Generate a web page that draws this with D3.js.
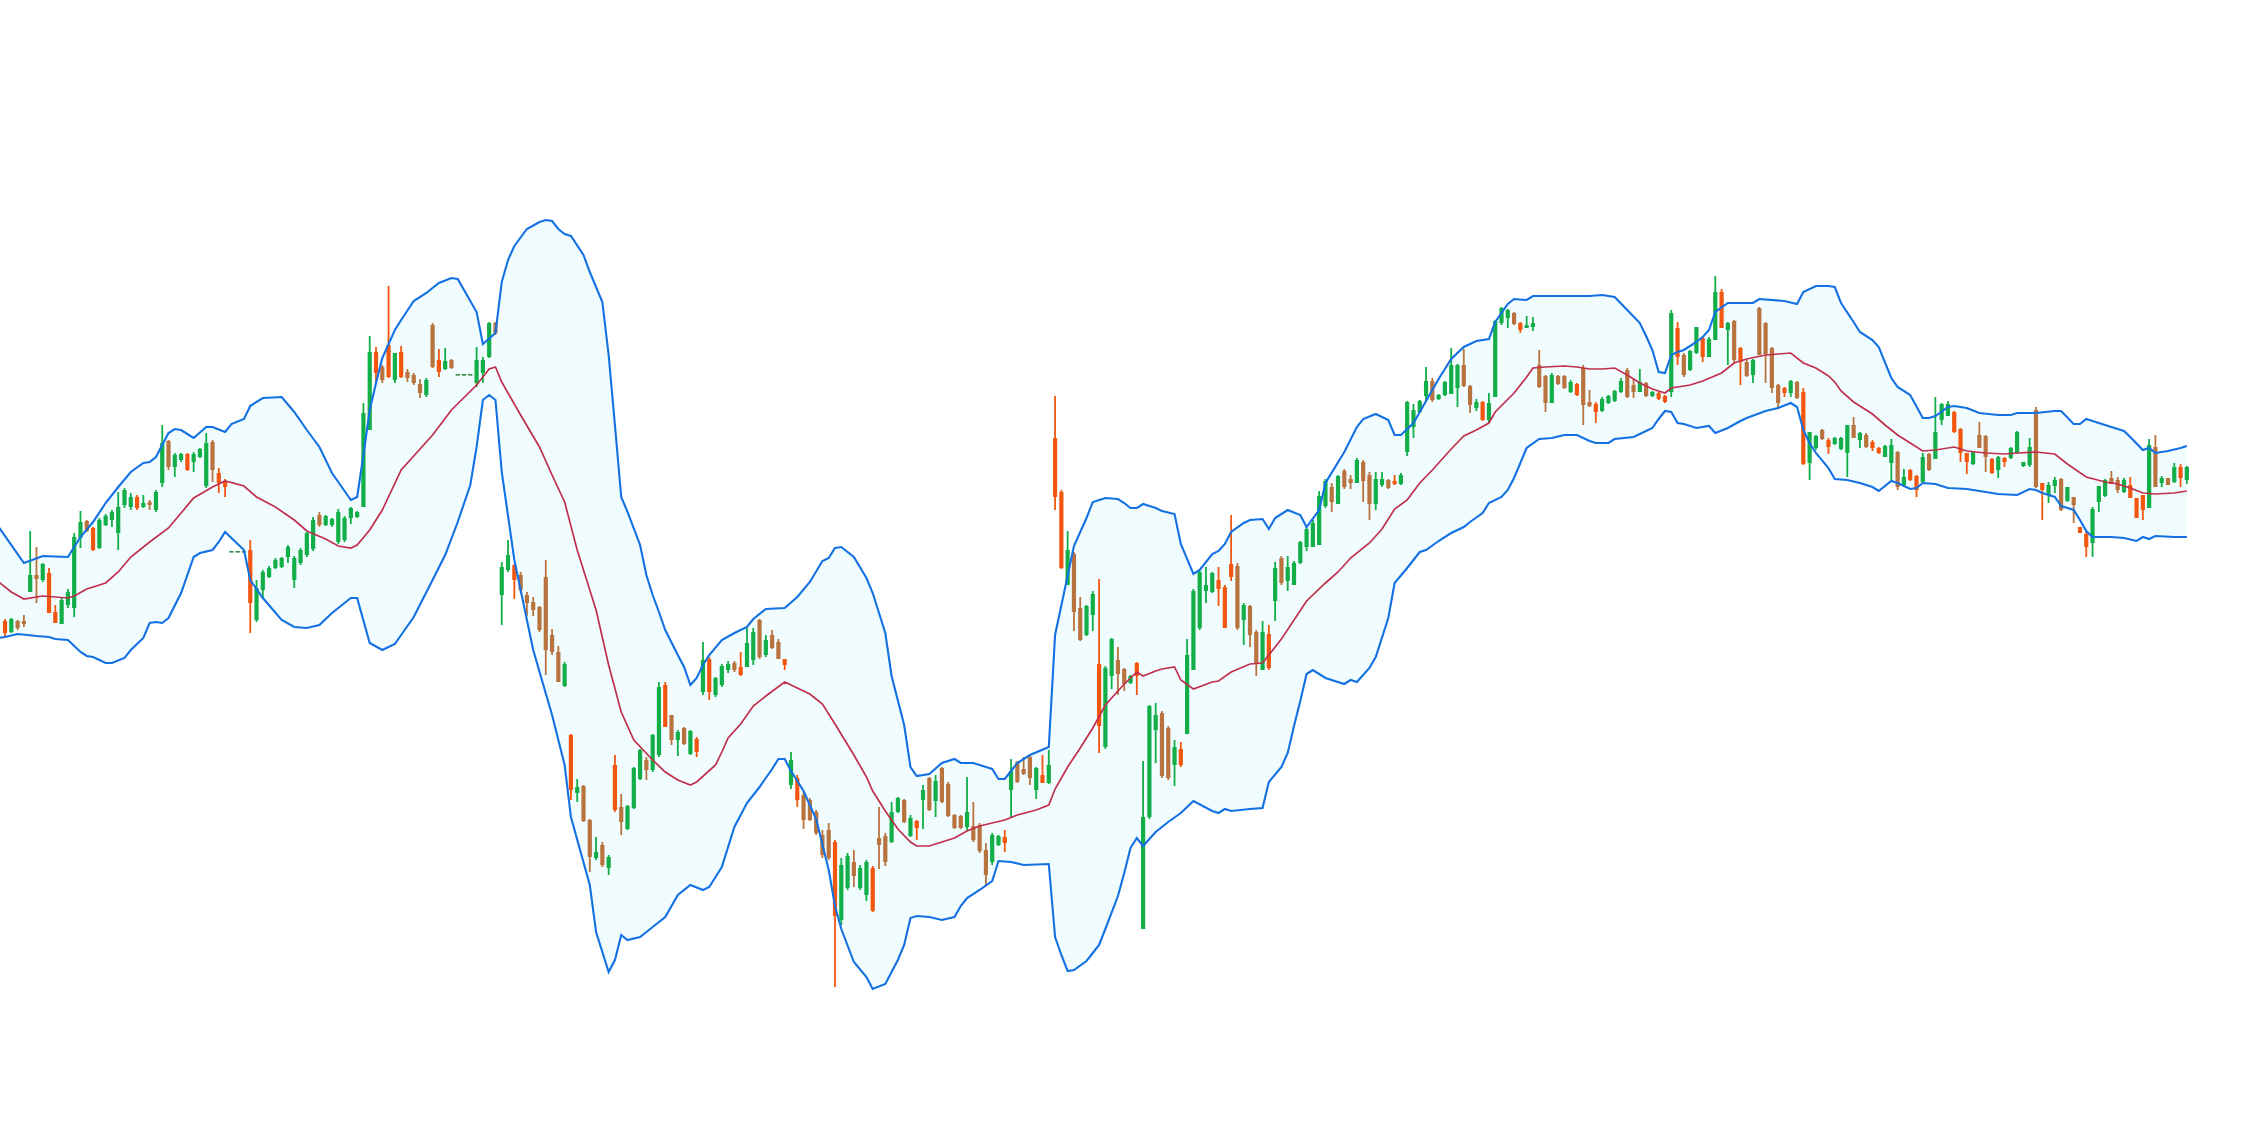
<!DOCTYPE html>
<html><head><meta charset="utf-8">
<script src="https://cdn.jsdelivr.net/npm/d3@7"></script>
<style>html,body{margin:0;padding:0;background:#fff;}svg{display:block;}</style>
</head><body>
<svg id="chart" width="2268" height="1148"></svg>
<script>
// ---- data (price units) ----
const openP = [
579,568,579,579,608,625,620,627,588,576, 595,592,662,679,672,652,675,680,667,695,
693,703,693,698,690,717,759,733,740,746, 738,743,714,758,727,718,649,649,649,650,
580,610,623,632,633,643,620,637,645,651, 685,675,675,658,660,682,683,693,770,848,
833,855,820,848,828,825,816,805,875,840, 831,840,826,826,826,817,827,843,877,605,
630,635,625,605,598,593,623,565,548,514, 465,407,414,380,342,355,332,435,393,371,
392,421,440,430,445,515,485,460,472,446, 461,508,541,505,515,530,537,533,533,540,
580,545,565,558,541,415,422,405,400,388, 365,370,358,280,312,338,312,305,332,362,
364,358,388,400,364,379,400,422,399,432, 416,385,384,373,374,375,350,338,355,363,
410,438,431,443,410,425,417,762,708,615, 646,592,565,585,536,453,524,540,531,517,
537,271,383,470,487,472,435,451,466,530, 572,609,608,620,613,636,634,580,594,568,
530,566,599,642,619,615,637,653,653,655, 694,713,696,729,721,717,738,725,696,715,
720,719,716,748,773,788,804,819,801,805, 806,812,835,814,792,798,780,803,877,882,
887,877,872,873,835,824,797,824,824,808, 816,832,798,796,789,797,799,808,830,815,
808,817,804,807,804,808,872,845,830,847, 862,843,860,908,870,879,852,838,825,892,
877,852,815,812,807,818,808,737,752,770, 760,756,751,747,775,760,765,758,752,743,
737,748,715,730,724,718,746,741,780,784, 788,771,747,736,765,764,741,730,742,742,
747,734,735,790,717,705,714,721,699,703, 673,666,657,698,704,722,720,708,715,702,
705,692,753,717,722,718,733,720];
const highP = [
581,582,580,585,669,653,637,632,595,602, 611,667,689,680,673,682,686,690,708,712,
707,705,705,700,710,775,760,747,747,747, 748,752,767,760,732,721,649,649,649,660,
620,630,634,642,643,655,644,652,668,683, 688,685,682,691,684,693,689,797,864,853,
835,914,847,854,831,827,821,822,877,851, 852,841,826,826,826,853,843,878,878,638,
660,636,628,608,603,594,640,571,554,538, 466,421,415,381,363,358,345,445,406,395,
433,451,443,466,518,518,485,470,473,470, 463,558,543,523,536,539,539,548,573,572,
581,565,570,561,541,448,425,408,402,390, 370,377,360,342,347,350,335,340,334,393,
367,398,403,401,385,380,415,423,425,433, 418,386,385,423,398,377,357,367,365,370,
441,439,443,445,433,445,450,804,710,669, 648,603,595,609,621,534,562,553,532,525,
538,439,495,497,489,474,460,458,561,611, 630,633,628,633,615,685,637,597,595,570,
579,575,638,644,644,639,659,673,680,709, 721,717,725,731,725,742,740,728,728,728,
721,725,727,799,796,800,833,822,806,819, 852,836,851,815,801,799,807,880,893,891,
888,878,884,883,850,825,827,825,825,820, 817,835,810,798,803,805,810,822,832,822,
831,818,809,808,805,890,878,847,850,873, 864,863,924,911,878,880,853,840,841,893,
878,853,816,813,820,819,812,768,765,771, 762,763,763,775,783,768,767,760,753,755,
761,749,731,731,725,747,747,803,797,799, 789,772,747,749,778,765,742,744,743,753,
769,738,762,793,717,718,723,722,713,703, 673,668,693,714,721,729,723,722,723,702,
705,761,765,724,722,737,736,734];
const lowP = [
563,567,570,573,608,597,618,587,577,576, 592,583,652,668,649,651,674,673,650,692,
690,690,692,690,688,713,730,723,738,729, 728,742,712,718,707,703,649,649,649,567,
578,602,622,631,632,637,612,635,643,649, 673,674,673,656,658,676,682,693,770,816,
817,822,817,822,818,815,802,803,832,823, 830,831,826,826,826,813,817,842,865,575,
628,601,608,584,584,568,525,545,518,513, 400,398,378,328,340,333,325,388,365,370,
391,420,420,428,443,473,455,444,455,445, 443,505,500,503,513,527,528,524,533,535,
541,543,551,541,530,411,393,371,379,365, 342,340,213,275,310,313,310,299,288,331,
334,357,387,377,363,360,371,389,383,397, 383,371,371,369,358,347,314,335,354,348,
383,417,425,415,401,417,416,690,631,615, 569,559,564,569,447,451,511,505,509,516,
505,271,381,437,422,420,414,433,466,530, 570,597,607,594,572,619,570,555,553,524,
530,530,579,615,609,615,636,649,653,655, 692,688,696,711,711,717,698,680,690,713,
711,715,715,744,762,787,798,798,800,804, 806,793,813,787,789,779,777,803,875,872,
875,867,872,869,812,788,797,815,811,807, 804,775,793,777,788,796,798,807,802,802,
808,803,803,800,797,803,835,823,829,846, 838,843,860,872,835,837,815,823,817,845,
817,807,791,803,803,801,735,720,750,760, 746,755,750,723,762,752,752,749,746,743,
719,710,713,719,703,717,729,741,775,784, 767,738,726,735,752,728,726,722,733,741,
746,733,733,712,680,697,707,689,698,677, 667,643,643,688,703,716,707,707,702,682,
680,692,713,713,715,717,713,716];
const closeP = [
567,581,572,576,625,621,636,587,577,600, 608,663,678,669,650,680,684,688,693,710,
703,692,697,695,708,757,733,745,746,730, 746,751,757,730,717,713,649,649,649,597,
612,628,632,640,642,653,642,650,667,680, 675,684,681,688,682,692,688,787,848,827,
820,823,847,823,822,817,807,820,833,828, 839,832,826,826,826,840,840,877,867,633,
645,620,610,597,590,570,550,548,518,536, 410,413,379,343,348,335,343,390,378,394,
432,450,430,465,513,473,460,468,456,469, 448,540,508,522,534,536,530,525,557,568,
543,560,552,541,535,440,400,380,380,367, 345,342,284,335,344,324,332,338,289,355,
338,388,402,378,382,372,410,390,419,398, 384,372,372,388,360,349,325,365,364,357,
429,418,426,422,432,417,435,703,632,650, 588,560,594,606,474,532,561,526,516,524,
524,383,494,485,424,422,453,435,545,609, 628,615,627,611,572,623,572,595,565,536,
568,532,632,617,633,637,658,671,677,704, 719,698,724,713,717,740,719,696,721,721,
712,716,725,798,790,799,819,800,805,818, 835,835,814,795,798,780,797,879,892,890,
876,870,875,877,813,797,825,816,812,818, 805,795,794,788,801,804,809,819,803,808,
818,804,808,801,798,887,843,825,849,873, 843,861,908,872,877,840,838,824,840,845,
846,812,797,807,819,802,736,768,764,761, 753,762,762,775,762,767,753,752,747,754,
755,713,723,720,710,743,730,768,796,796, 768,747,738,748,752,743,727,743,738,752,
768,738,753,713,710,715,720,690,713,695, 667,653,691,714,720,716,710,720,702,682,
690,755,713,722,715,733,722,733];
// candle tone: g = up, o = down, b = muted down, f = flat
const tone = (
"ogbbgbgoog"+"gggboggggg"+"gogbggbggo"+"gggboofffo"+"gggggggggg"+
"bggggggggo"+"bogobbbgbo"+"gbfffgggbg"+"gobbbbbbbg"+"ogbbgbgobg"+
"ggbggobgbg"+"ogogggbogg"+"bgbbogobbb"+"bboggbggob"+"bggbgogbgb"+
"bbbgbbbggo"+"gbbbgogoog"+"bbggoggbbg"+"ogggbbgogg"+"gggooobgbb"+
"gogbgggggg"+"gbgbbgbbgg"+"bogggggbgg"+"ggbbgogggg"+"boggbbgbbg"+
"obboggggbb"+"gbgoogobgg"+"oggogbobgb"+"bbbogboggb"+"ogggbgboog"+
"gbgoogbggg"+"ooogbbogog"+"gggboggbgb"+"oogggbbgoo"+"ogbgbgog").split("");

// Bollinger band lines: [candle index, value]
const upperBand = [[-1,673],[3,637],[6,644],[10,643],[12,663],[14,678],[16,697],[18,713],[20,728],[22,737],[23,738],[24,743],[26,767],[27,771],[28,770],[30,762],[32,773],[33,773],[35,768],[36,776],[38,781],[39,794],[41,802],[44,803],[46,788],[48,770],[50,753],[52,727],[55,700],[56,703],[57,745],[58,790],[59,817],[60,842],[62,870],[63,880],[65,899],[67,907],[69,917],[71,922],[72,921],[73,910],[75,888],[76,856],[78,867],[79,918],[80,940],[81,954],[83,971],[85,978],[86,980],[87,979],[88,971],[89,966],[90,964],[92,945],[93,928],[95,898],[96,845],[97,775],[98,703],[99,688],[101,655],[102,625],[103,605],[104,588],[105,570],[107,545],[108,533],[109,515],[110,522],[111,535],[112,545],[114,560],[116,567],[118,573],[119,581],[121,591],[124,592],[126,603],[128,618],[130,639],[131,642],[132,652],[133,653],[135,643],[137,622],[138,607],[140,567],[141,524],[143,475],[144,433],[145,424],[147,426],[149,437],[151,441],[152,437],[154,437],[156,433],[157,431],[158,421],[159,421],[160,429],[161,437],[163,445],[166,453],[167,565],[170,654],[172,682],[173,698],[175,702],[177,701],[178,697],[179,692],[180,692],[181,696],[183,692],[184,689],[186,686],[187,656],[189,626],[190,630],[192,646],[193,649],[194,656],[195,668],[197,677],[198,680],[200,681],[201,671],[202,682],[204,690],[206,685],[207,673],[209,690],[210,717],[213,748],[215,773],[216,781],[218,786],[220,780],[221,765],[222,765],[224,777],[226,799],[228,821],[230,841],[232,853],[234,859],[236,861],[237,878],[239,896],[240,901],[242,900],[243,904],[252,904],[254,905],[256,903],[258,890],[260,877],[261,864],[262,850],[263,828],[264,827],[265,845],[266,848],[267,850],[269,858],[270,863],[271,870],[272,888],[274,897],[278,897],[279,901],[283,899],[285,896],[286,908],[288,914],[290,914],[291,913],[292,897],[294,878],[295,868],[297,860],[298,853],[300,822],[301,813],[303,805],[305,782],[306,782],[307,784],[309,793],[310,794],[312,792],[314,787],[317,785],[319,785],[320,787],[323,787],[326,789],[327,789],[329,776],[330,776],[331,781],[333,777],[335,773],[337,769],[338,763],[340,750],[341,752],[342,747],[344,749],[346,752],[347,754]];
const middleBand = [[-1,618],[1,608],[3,601],[6,604],[10,602],[11,604],[13,611],[16,617],[18,628],[20,643],[23,658],[26,672],[28,687],[30,702],[33,713],[35,719],[38,714],[40,703],[43,693],[46,680],[48,669],[51,661],[53,654],[55,652],[56,655],[58,670],[60,690],[63,730],[68,765],[71,790],[75,815],[77,831],[78,833],[79,818],[82,785],[85,753],[87,725],[89,698],[91,650],[94,590],[96,535],[98,488],[100,460],[103,440],[105,428],[107,420],[109,415],[110,418],[113,435],[114,448],[115,462],[117,476],[119,494],[121,504],[124,518],[126,512],[128,506],[130,496],[132,476],[135,445],[137,423],[138,409],[140,389],[142,371],[144,358],[145,354],[147,354],[149,358],[151,362],[153,369],[155,374],[157,377],[159,380],[161,385],[164,390],[166,395],[167,411],[169,433],[171,452],[173,472],[175,495],[178,516],[180,528],[181,524],[183,529],[184,531],[186,533],[187,520],[189,511],[192,518],[193,519],[195,528],[198,536],[200,537],[203,561],[207,599],[210,617],[212,628],[214,642],[217,657],[219,671],[221,691],[223,700],[225,717],[227,730],[230,751],[232,764],[234,770],[236,777],[237,788],[240,807],[242,823],[243,832],[245,833],[248,834],[250,833],[252,831],[254,831],[256,832],[258,825],[260,817],[262,811],[264,807],[265,812],[268,815],[270,819],[273,827],[275,837],[277,841],[280,845],[282,846],[284,847],[286,837],[288,832],[290,824],[291,818],[292,809],[294,798],[297,786],[299,775],[301,765],[303,757],[305,749],[307,750],[310,753],[312,749],[315,747],[318,746],[320,747],[323,748],[326,746],[328,736],[331,723],[334,718],[336,716],[338,712],[340,707],[342,706],[345,707],[347,709]];
const lowerBand = [[-1,562],[0,563],[2,566],[5,564],[7,563],[8,561],[10,560],[12,548],[13,544],[14,543],[16,537],[17,537],[19,542],[20,550],[22,562],[23,577],[24,578],[25,577],[26,582],[28,607],[30,643],[31,647],[33,650],[34,658],[35,668],[36,662],[38,650],[39,620],[41,602],[44,580],[46,573],[48,572],[50,575],[52,587],[55,602],[56,602],[58,557],[60,550],[62,556],[65,583],[68,620],[70,645],[72,678],[74,715],[75,753],[76,800],[77,805],[78,800],[79,728],[81,640],[84,550],[87,485],[89,435],[90,383],[93,315],[94,268],[96,228],[97,240],[98,265],[99,260],[101,263],[103,273],[105,283],[107,305],[109,315],[111,310],[112,313],[114,333],[116,373],[118,397],[120,413],[122,431],[123,441],[124,441],[125,429],[127,409],[129,381],[131,330],[132,294],[133,271],[135,238],[137,223],[138,211],[140,216],[142,240],[143,255],[144,282],[145,284],[147,283],[149,280],[151,283],[152,294],[153,302],[155,310],[157,319],[158,339],[160,338],[162,335],[166,336],[167,263],[168,245],[169,229],[170,230],[172,239],[173,247],[174,255],[175,271],[177,304],[178,327],[179,352],[180,362],[181,354],[183,368],[185,378],[187,387],[189,399],[192,389],[193,387],[194,391],[195,389],[198,391],[200,392],[201,418],[203,433],[204,447],[205,474],[206,499],[207,526],[208,530],[210,522],[213,516],[214,520],[215,518],[217,532],[218,543],[220,582],[221,617],[223,632],[225,648],[226,650],[228,659],[230,667],[232,673],[233,678],[235,687],[236,697],[238,703],[239,710],[240,722],[242,752],[244,761],[246,762],[248,765],[250,765],[252,759],[253,757],[255,757],[256,761],[259,763],[260,766],[262,772],[263,781],[264,789],[265,788],[266,777],[267,776],[269,772],[271,774],[272,767],[274,772],[276,779],[277,782],[280,789],[282,792],[284,797],[285,793],[286,770],[287,757],[288,747],[290,732],[291,721],[293,720],[295,717],[297,713],[298,709],[300,719],[301,717],[303,711],[304,712],[305,717],[307,716],[309,712],[312,711],[315,708],[317,706],[320,705],[322,711],[323,710],[324,707],[326,703],[327,694],[329,690],[330,680],[331,669],[332,663],[335,663],[337,662],[339,659],[340,663],[341,661],[342,664],[345,663],[347,663]];

// ---- drawing ----
const W = 2268, H = 1148, plotW = 2190;
const svg = d3.select("#chart");
svg.append("rect").attr("width", W).attr("height", H).attr("fill", "#ffffff");

const n = openP.length;
const x = d3.scaleLinear().domain([-0.8, n - 0.5]).range([0, plotW]);
const y = d3.scaleLinear().domain([52, 1200]).range([H, 0]);

svg.append("defs").append("clipPath").attr("id", "clip")
  .append("rect").attr("x", 0).attr("y", 0).attr("width", plotW).attr("height", H);
const g = svg.append("g").attr("clip-path", "url(#clip)");

const line = d3.line().x(d => x(d[0])).y(d => y(d[1]));

// band fill
const ring = upperBand.concat(lowerBand.slice().reverse());
g.append("path").attr("d", line(ring) + "Z")
  .attr("fill", "#f0fcfe").attr("stroke", "none");

// candles
const colors = { g: "#12ae48", o: "#f2560f", b: "#b8733e", f: "#2b8c3f" };
const candles = d3.range(n).map(i => ({
  i, o: openP[i], h: highP[i], l: lowP[i], c: closeP[i], t: tone[i]
}));
const cg = g.append("g");
cg.selectAll("line.wick").data(candles).join("line")
  .attr("class", "wick")
  .attr("x1", d => x(d.i)).attr("x2", d => x(d.i))
  .attr("y1", d => y(d.h)).attr("y2", d => y(d.l))
  .attr("stroke", d => colors[d.t]).attr("stroke-width", 1.8);
const bodyW = 4.2;
cg.selectAll("rect.body").data(candles).join("rect")
  .attr("class", "body")
  .attr("x", d => x(d.i) - bodyW / 2).attr("width", bodyW)
  .attr("y", d => y(Math.max(d.o, d.c)))
  .attr("height", d => Math.max(1.6, Math.abs(y(d.o) - y(d.c))))
  .attr("fill", d => colors[d.t]);

// band lines
g.append("path").datum(middleBand).attr("d", line)
  .attr("fill", "none").attr("stroke", "#c02f4d").attr("stroke-width", 1.7);
g.append("path").datum(upperBand).attr("d", line)
  .attr("fill", "none").attr("stroke", "#1471e3").attr("stroke-width", 2.1);
g.append("path").datum(lowerBand).attr("d", line)
  .attr("fill", "none").attr("stroke", "#1471e3").attr("stroke-width", 2.1);
</script>
</body></html>
